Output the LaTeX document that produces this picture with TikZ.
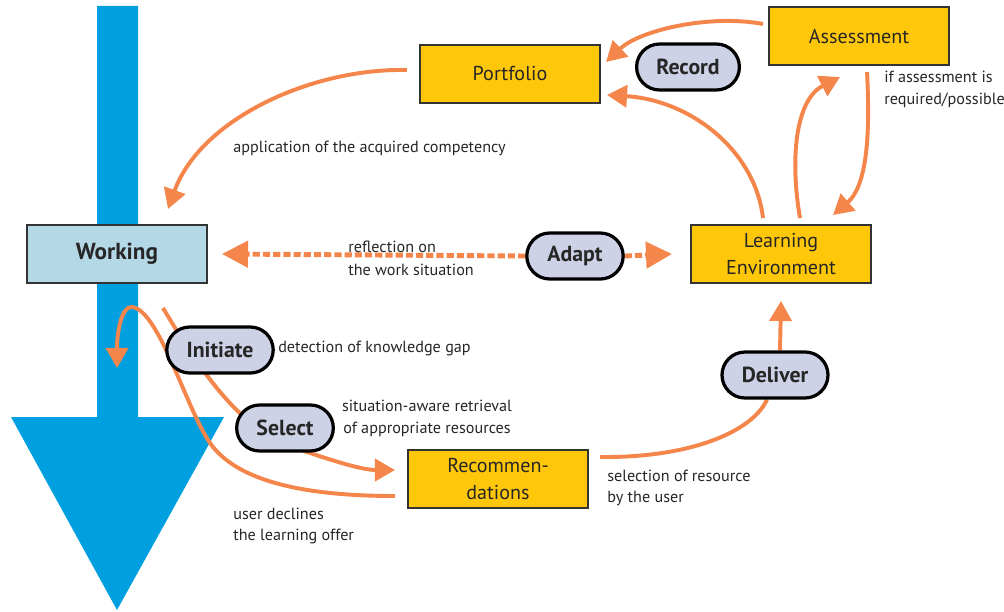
\documentclass[tikz,border=0pt]{standalone}
\usepackage{fontspec}
\setmainfont{PT Sans}
\usetikzlibrary{arrows.meta,shapes.misc,backgrounds}

\definecolor{flowblue}{HTML}{009FDF}
\definecolor{boxyellow}{HTML}{FFC70A}
\definecolor{workblue}{HTML}{B5D8E6}
\definecolor{pillgray}{HTML}{CED2E7}
\definecolor{linkorange}{HTML}{F5864B}

\tikzset{
    stagebox/.style={draw=black!80, line width=1.4pt, fill=boxyellow, minimum width=4.5cm,
        minimum height=1.45cm, align=center, text=black!85, font=\fontsize{14.3}{18.5}\selectfont},
    actpill/.style={rounded rectangle, draw=black, line width=2.3pt, fill=pillgray,
        minimum height=1.15cm, inner xsep=0.46cm, text=black!85, font=\bfseries\fontsize{15.5}{17}\selectfont},
    link/.style={draw=linkorange, line width=2.8pt},
    dashlink/.style={draw=linkorange, line width=3.5pt, dash pattern=on 1.8mm off 0.75mm,
        -{Triangle[length=6.5mm,width=6.5mm]}},
    note/.style={anchor=west, inner sep=0pt, align=left, text=black!85, font=\fontsize{11.5}{15.5}\selectfont},
}

\begin{document}
\begin{tikzpicture}[x=0.025cm, y=-0.025cm, >={Triangle[length=5mm,width=5.5mm]}]
    \useasboundingbox (0,0) rectangle (1004,611);

    % Boxes
    \node[stagebox, fill=workblue, font=\bfseries\fontsize{16.5}{18.5}\selectfont] (working) at (117,254) {Working};
    \node[stagebox] (portfolio) at (510,74) {Portfolio};
    \node[stagebox] (assessment) at (859,36) {Assessment};
    \node[stagebox] (learnenv) at (781,254) {Learning\\Environment};
    \node[stagebox] (recommend) at (498,479) {Recommen-\\dations};

    % Actions
    \node[actpill] (record) at (688,67) {Record};
    \node[actpill] (adapt) at (575,256) {Adapt};
    \node[actpill] (initiate) at (220,350) {Initiate};
    \node[actpill] (select) at (285,428) {Select};
    \node[actpill] (deliver) at (775,375) {Deliver};

    % Notes
    \node[note] (applynote) at (233,148) {application of the acquired competency};
    \node[note] (assessnote) at (884,89) {if assessment is\\required/possible};
    \node[note] (reflectnote) at (348,258) {reflection on\\[1pt]the work situation};
    \node[note] (detectnote) at (278,348) {detection of knowledge gap};
    \node[note, anchor=center, align=center] (retrievenote) at (427,418) {situation-aware retrieval\\of appropriate resources};
    \node[note] (choosenote) at (607,488) {selection of resource\\by the user};
    \node[note] (declinenote) at (233,526) {user declines\\the learning offer};

    \begin{scope}[on background layer]
        % Flow of work
        \fill[flowblue] (97,6) -- (138,6) -- (138,417) -- (224,417) -- (117,610) -- (11,417) -- (97,417) -- cycle;

        % Links
        \draw[link,->] ([shift={(-12,-4)}]portfolio.west) .. controls (310,68) and (200,120) .. ([shift={(51,-15)}]working.north);
        \draw[link,->] ([shift={(-5,-12)}]assessment.west) .. controls (710,14) and (640,30) .. ([shift={(5,-12)}]portfolio.east);
        \draw[link,->] ([shift={(-18,-6)}]learnenv.north) .. controls (755,150) and (690,100) .. ([shift={(6,21)}]portfolio.east);
        \draw[link,->] ([shift={(19,-6)}]learnenv.north) .. controls (790,160) and (795,100) .. ([shift={(-19,11)}]assessment.south);
        \draw[link,->] ([shift={(8,6)}]assessment.south) .. controls (870,130) and (868,185) .. ([shift={(52,-9)}]learnenv.north);

        \draw[dashlink] (adapt.west) -- ([shift={(14,0)}]working.east);
        \draw[dashlink] (adapt.east) -- ([shift={(-18,0)}]learnenv.west);

        \draw[link,->] ([shift={(46,24)}]working.south) .. controls (200,370) and (240,430) .. ([shift={(10,20)}]select.center)
            .. controls (325,458) and (360,470) .. ([shift={(-12,-9)}]recommend.west);
        \draw[link,->] ([shift={(-12,17)}]recommend.west) .. controls (300,496) and (240,480) .. (213,447)
            .. controls (188,416) and (160,310) .. (132,307) .. controls (122,306) and (117,330) .. ([shift={(0,84)}]working.south);

        \draw[link] ([shift={(11,-22)}]recommend.east) .. controls (690,458) and (752,432) .. ([shift={(-8,0)}]deliver.south);
        \draw[link,->] ([shift={(5,0)}]deliver.north) -- ([shift={(0,17)}]learnenv.south);
    \end{scope}
\end{tikzpicture}
\end{document}
